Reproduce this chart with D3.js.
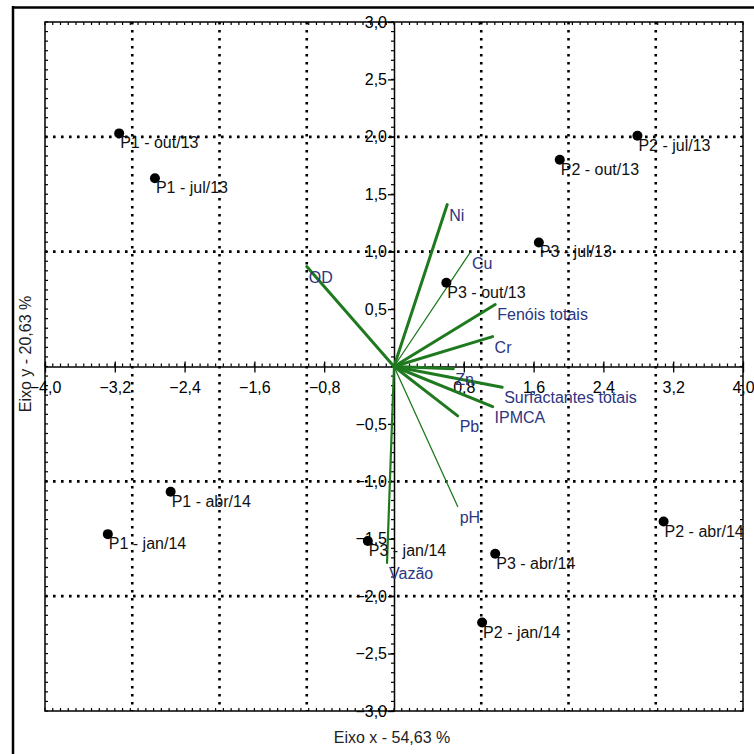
<!DOCTYPE html>
<html lang="pt">
<head>
    <meta charset="UTF-8">
    <title>Biplot ACP</title>
    <script src="https://d3js.org/d3.v7.min.js"></script>
    <style>
        * { margin: 0; padding: 0; }
        body { background: #ffffff; width: 754px; height: 754px; overflow: hidden; }
        text { font-family: "Liberation Sans", Arial, sans-serif; font-size: 16px; }
        .grid { stroke: #000; stroke-width: 2.6; stroke-dasharray: 2.6, 5.4; fill: none; }
        .vec { stroke: #1f7a1f; fill: none; stroke-linecap: round; }
        .vlabel { fill: #2c3580; }
    </style>
</head>
<body>
<svg></svg>
<script>
    // Amostras (escores)
    const samples = ["P1 - out/13", "P1 - jul/13", "P2 - jul/13", "P2 - out/13", "P3 - jul/13", "P3 - out/13",
                     "P1 - abr/14", "P1 - jan/14", "P3 - jan/14", "P3 - abr/14", "P2 - jan/14", "P2 - abr/14"];
    const sampleX = [-3.15, -2.74, 2.79, 1.90, 1.66, 0.60, -2.56, -3.28, -0.30, 1.16, 1.01, 3.09];
    const sampleY = [2.03, 1.64, 2.01, 1.80, 1.08, 0.73, -1.09, -1.46, -1.52, -1.63, -2.23, -1.35];

    // Variáveis (cargas)
    const variables = ["Ni", "Cu", "OD", "Fenóis totais", "Cr", "Zn", "Surfactantes totais", "IPMCA", "Pb", "pH", "Vazão"];
    const varX = [0.61, 0.87, -1.00, 1.16, 1.13, 0.68, 1.24, 1.13, 0.73, 0.73, -0.08];
    const varY = [1.41, 0.99, 0.87, 0.54, 0.26, -0.02, -0.18, -0.35, -0.43, -1.22, -1.71];
    const varWidth = [3, 1.3, 3, 3, 3, 3, 3, 3, 3, 1.3, 2.2];

    // Eixos
    const xTicks = [-4.0, -3.2, -2.4, -1.6, -0.8, 0.8, 1.6, 2.4, 3.2, 4.0];
    const yTicks = [3.0, 2.5, 2.0, 1.5, 1.0, 0.5, -0.5, -1.0, -1.5, -2.0, -2.5, -3.0];
    const xGrid = [-3, -2, -1, 1, 2, 3];
    const yGrid = [2, 1, -1, -2];

    const W = 754, H = 754;
    const svg = d3.select("svg").attr("width", W).attr("height", H);

    const x = d3.scaleLinear().domain([-4, 4]).range([45, 743]);
    const y = d3.scaleLinear().domain([-3, 3]).range([711, 22]);
    const fmt = d => d3.format(".1f")(d).replace(".", ",");

    // moldura externa (só topo e esquerda visíveis)
    svg.append("line").attr("x1", 12).attr("x2", W).attr("y1", 7.5).attr("y2", 7.5)
        .attr("stroke", "#000").attr("stroke-width", 2.5);
    svg.append("line").attr("x1", 13).attr("x2", 13).attr("y1", 6).attr("y2", H)
        .attr("stroke", "#000").attr("stroke-width", 2.5);

    // grade pontilhada
    svg.append("g").selectAll("line").data(xGrid).enter().append("line")
        .attr("class", "grid")
        .attr("x1", d => x(d)).attr("x2", d => x(d))
        .attr("y1", y(3)).attr("y2", y(-3));
    svg.append("g").selectAll("line").data(yGrid).enter().append("line")
        .attr("class", "grid")
        .attr("x1", x(-4)).attr("x2", x(4))
        .attr("y1", d => y(d)).attr("y2", d => y(d));

    // borda da área do gráfico
    svg.append("rect")
        .attr("x", x(-4)).attr("y", y(3))
        .attr("width", x(4) - x(-4)).attr("height", y(-3) - y(3))
        .attr("fill", "none").attr("stroke", "#000").attr("stroke-width", 1.5);

    // marcas menores nas bordas
    const minorX = d3.range(-4, 4.0001, 0.8 / 9);
    const minorY = d3.range(-3, 3.0001, 0.5 / 6);
    const minor = svg.append("g").attr("stroke", "#000").attr("stroke-width", 1.2);
    minorX.forEach(v => {
        minor.append("line").attr("x1", x(v)).attr("x2", x(v)).attr("y1", y(3)).attr("y2", y(3) + 3);
        minor.append("line").attr("x1", x(v)).attr("x2", x(v)).attr("y1", y(-3)).attr("y2", y(-3) - 3);
        minor.append("line").attr("x1", x(v)).attr("x2", x(v)).attr("y1", y(0)).attr("y2", y(0) - 3);
    });
    minorY.forEach(v => {
        minor.append("line").attr("x1", x(-4)).attr("x2", x(-4) + 3).attr("y1", y(v)).attr("y2", y(v));
        minor.append("line").attr("x1", x(4)).attr("x2", x(4) - 3).attr("y1", y(v)).attr("y2", y(v));
        minor.append("line").attr("x1", x(0)).attr("x2", x(0) - 3).attr("y1", y(v)).attr("y2", y(v));
    });

    // eixo x na origem
    const gx = svg.append("g").attr("transform", `translate(0,${y(0)})`)
        .call(d3.axisBottom(x).tickValues(xTicks).tickFormat(fmt).tickSize(6).tickSizeOuter(0).tickPadding(9));
    // eixo y na origem
    const gy = svg.append("g").attr("transform", `translate(${x(0)},0)`)
        .call(d3.axisLeft(y).tickValues(yTicks).tickFormat(fmt).tickSize(6).tickSizeOuter(0).tickPadding(1));
    [gx, gy].forEach(g => {
        g.select(".domain").attr("stroke-width", 1.5);
        g.selectAll(".tick line").attr("stroke-width", 1.3);
        g.selectAll("text").attr("font-size", 16).attr("font-family", null).attr("fill", "#000");
    });
    gx.selectAll(".tick line").attr("y1", -5);

    // vetores das variáveis
    const vecs = svg.append("g");
    variables.forEach((v, i) => {
        vecs.append("line").attr("class", "vec")
            .attr("x1", x(0)).attr("y1", y(0))
            .attr("x2", x(varX[i])).attr("y2", y(varY[i]))
            .attr("stroke-width", varWidth[i]);
    });
    vecs.selectAll("text").data(variables).enter().append("text")
        .attr("class", "vlabel")
        .attr("x", (d, i) => x(varX[i]) + 2)
        .attr("y", (d, i) => y(varY[i]) + 16)
        .text(d => d);

    // amostras
    const pts = svg.append("g");
    samples.forEach((s, i) => {
        pts.append("circle").attr("cx", x(sampleX[i])).attr("cy", y(sampleY[i])).attr("r", 5).attr("fill", "#000");
        pts.append("text").attr("x", x(sampleX[i]) + 1).attr("y", y(sampleY[i]) + 15)
            .attr("fill", "#111").text(s);
    });

    // títulos dos eixos
    svg.append("text").attr("x", 392).attr("y", 743).attr("text-anchor", "middle")
        .attr("fill", "#222").text("Eixo x - 54,63 %");
    svg.append("text").attr("transform", "translate(31,354) rotate(-90)").attr("text-anchor", "middle")
        .attr("fill", "#222").attr("font-size", 17).text("Eixo y - 20,63 %");
</script>
</body>
</html>
